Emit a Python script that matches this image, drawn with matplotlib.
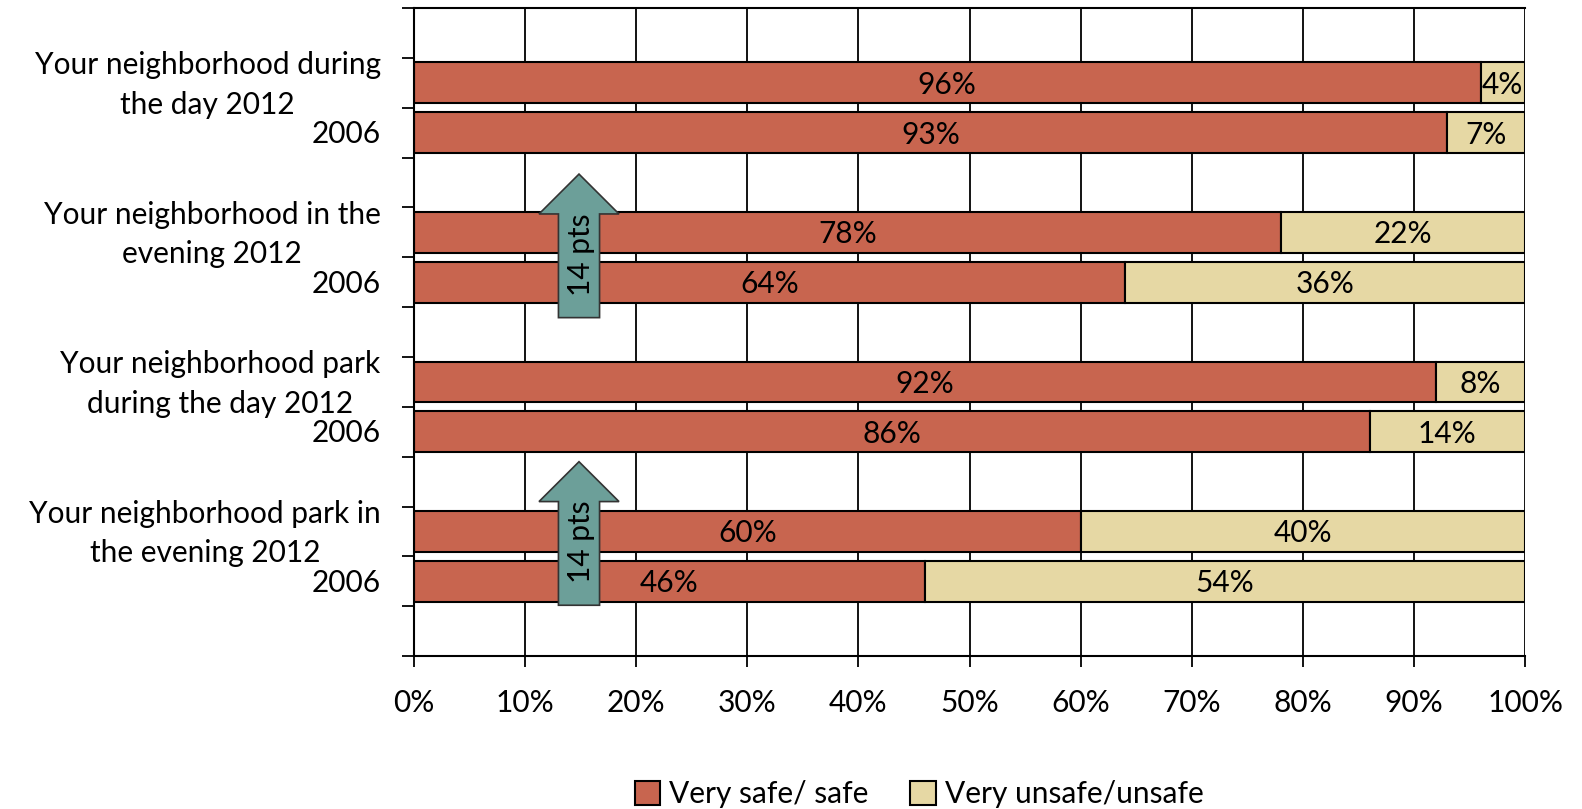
import matplotlib
matplotlib.use("Agg")
import matplotlib.pyplot as plt
import matplotlib.transforms as mtransforms
from matplotlib.patches import FancyArrow, Patch
from matplotlib.ticker import FixedLocator, PercentFormatter

plt.rcParams['font.family'] = ['Lato', 'DejaVu Sans']

# ---- data ----
categories = ['', 'Your neighborhood during\nthe day 2012', '2006', '',
              'Your neighborhood in the\nevening 2012', '2006', '',
              'Your neighborhood park\nduring the day 2012', '2006', '',
              'Your neighborhood park in\nthe evening 2012', '2006', '']
safe = [None, 96, 93, None, 78, 64, None, 92, 86, None, 60, 46, None]
unsafe = [None, 4, 7, None, 22, 36, None, 8, 14, None, 40, 54, None]
series_names = ['Very safe/ safe', 'Very unsafe/unsafe']
arrow_text = '14 pts'
arrow_spans = [(5.71, 2.83), (11.48, 8.60)]   # (base, tip) in category positions
arrow_x = 0.1485

c_safe = '#C8654F'
c_unsafe = '#E6D8A4'
c_arrow = '#6C9F99'

fig = plt.figure(figsize=(15.82, 8.09), dpi=100)
ax = fig.add_axes([0.2617, 0.189, 0.7023, 0.801])

FS = 21.5
pos = list(range(len(categories)))
for i in pos:
    if safe[i] is None:
        continue
    s = safe[i] / 100
    u = unsafe[i] / 100
    ax.barh(i, s, height=0.82, color=c_safe, edgecolor='black', linewidth=1.5, zorder=2)
    ax.barh(i, u, left=s, height=0.82, color=c_unsafe, edgecolor='black', linewidth=1.5, zorder=2)
    ax.text(s / 2, i + 0.04, f'{safe[i]}%', ha='center', va='center', fontsize=FS, zorder=5)
    ax.text(s + u / 2, i + 0.04, f'{unsafe[i]}%', ha='center', va='center', fontsize=FS, zorder=5)

for base, tip in arrow_spans:
    arr = FancyArrow(arrow_x, base, 0, tip - base, width=0.037, head_width=0.072,
                     head_length=0.80, length_includes_head=True,
                     facecolor=c_arrow, edgecolor='#333333', linewidth=1.2, zorder=4)
    ax.add_patch(arr)
    ax.text(arrow_x + 0.002, base - 1.27, arrow_text, rotation=90, ha='center', va='center',
            fontsize=FS, zorder=5)

ax.set_xlim(0, 1)
ax.set_ylim(len(categories) - 0.5, -0.5)
ax.xaxis.set_major_locator(FixedLocator([i / 10 for i in range(11)]))
ax.xaxis.set_major_formatter(PercentFormatter(1.0, decimals=0))
ax.grid(axis='x', color='black', linewidth=1.3, zorder=0)
ax.set_axisbelow(True)

# category labels (right-aligned blocks, centred lines), placed beside each bar
ax.set_yticks([p + 0.5 for p in range(-1, len(categories))])
ax.set_yticklabels([])
ax.tick_params(axis='y', which='major', length=9, width=1.3, direction='out')
label_tr = mtransforms.blended_transform_factory(ax.transAxes, ax.transData)
for i, lab in enumerate(categories):
    if not lab:
        continue
    multi = '\n' in lab
    off = mtransforms.ScaledTranslation(-24 / 72, (-1.5 / 72) if multi else -1 / 72,
                                        fig.dpi_scale_trans)
    ax.text(0, i, lab, transform=label_tr + off, ha='right', va='center',
            multialignment='center', linespacing=1.5, fontsize=FS)

ax.tick_params(axis='x', which='major', length=8, width=1.3, pad=16, labelsize=FS)

for side in ['left', 'bottom', 'top']:
    ax.spines[side].set_linewidth(1.5)
    ax.spines[side].set_color('black')
ax.spines['right'].set_visible(False)

handles = [Patch(facecolor=c_safe, edgecolor='black', linewidth=1.5),
           Patch(facecolor=c_unsafe, edgecolor='black', linewidth=1.5)]
fig.legend(handles, series_names, loc='center', bbox_to_anchor=(0.581, 0.018),
           ncol=2, frameon=False, fontsize=FS, handlelength=0.85, handleheight=0.85,
           handletextpad=0.3, columnspacing=1.4)

fig.savefig('out.png', dpi=100)
